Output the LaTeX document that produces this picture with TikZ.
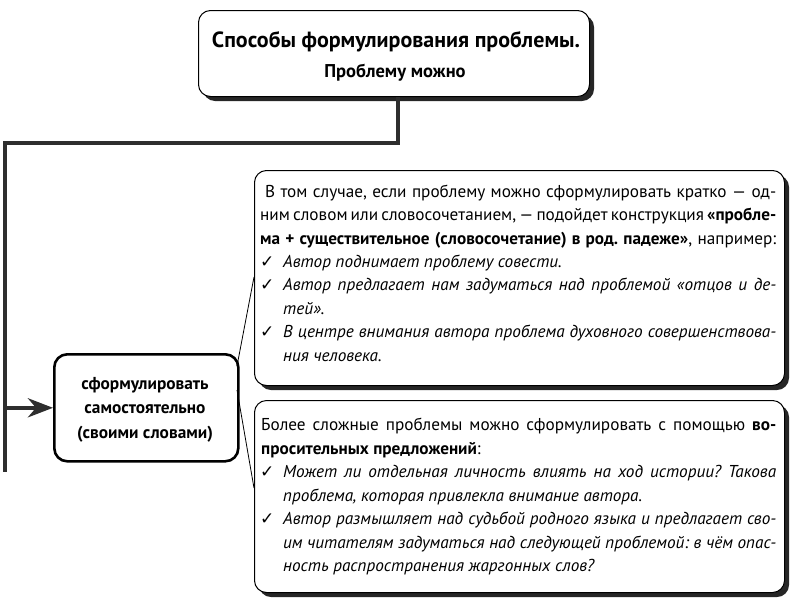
\documentclass[tikz,border=0pt]{standalone}
\usepackage{fontspec}
\setmainfont{PT Sans}
\newfontfamily\symfont{DejaVu Sans}
\usetikzlibrary{shadows,arrows.meta}
\frenchspacing
\newcommand\bodysize{\fontsize{17.2}{20}\selectfont}
\newcommand\jl[2]{\makebox[#1pt][s]{#2}}
\newcommand\chk{{\symfont\fontsize{17}{17}\selectfont ✓}}
\begin{document}
\begin{tikzpicture}[x=1pt,y=-1pt,
  conn/.style={line width=4.5pt, draw=black!82},
  card/.style={draw=black, line width=1pt, rounded corners=12pt, fill=white,
    drop shadow={shadow xshift=4.5pt, shadow yshift=-4.5pt, fill=black!85, opacity=1}},
  midbox/.style={draw=black, line width=2.6pt, rounded corners=13pt, fill=white},
  txt/.style={anchor=base west, inner sep=0pt, font=\bodysize},
  chkn/.style={anchor=base west, inner sep=0pt},
  ctxt/.style={anchor=base, inner sep=0pt},
  thinl/.style={draw=black, line width=0.8pt}]
\useasboundingbox (0,0) rectangle (800,600);
% top box
\node[card, anchor=north west, minimum width=391pt, minimum height=86pt] (top) at (198,10) {};
\node[ctxt, font=\bfseries\fontsize{22}{26}\selectfont] (title) at (396,47) {Способы формулирования проблемы.};
\node[ctxt, font=\bfseries\fontsize{18.5}{22}\selectfont] (sub) at (395,77) {Проблему можно};
% connectors
\coordinate (c1) at (398,143);
\coordinate (cl) at (5,143);
\coordinate (cb) at (5,472);
\draw[conn] (top.south -| c1) -- (c1) -- (cl) -- (cb);
% middle box
\node[midbox, anchor=north west, minimum width=184pt, minimum height=107pt] (mid) at (53,353) {};
\node[ctxt, font=\bfseries\fontsize{17.3}{20}\selectfont] (ma) at (145,389) {сформулировать};
\node[ctxt, font=\bfseries\fontsize{17.3}{20}\selectfont] (mb) at (145,413) {самостоятельно};
\node[ctxt, font=\bfseries\fontsize{17.3}{20}\selectfont] (mc) at (145,438) {(своими словами)};
\draw[conn, -{Stealth[length=25pt, width=19pt, inset=8pt]}] (mid.west -| cl) -- (mid.west);
% right boxes
\node[card, anchor=north west, minimum width=530pt, minimum height=215pt] (b1) at (254,170) {};
\node[card, anchor=north west, minimum width=530pt, minimum height=192pt] (b2) at (254,400) {};
% bracket lines
\coordinate (m1) at (237,366);
\coordinate (m2) at (237,390);
\coordinate (p1) at (254,277);
\coordinate (p2) at (254,488);
\draw[thinl] (m1) -- (p1);
\draw[thinl] (m2) -- (p2);
% box 1 text
\node[txt] (l1) at (265,197) {\jl{511}{В том случае, если проблему можно сформулировать кратко — од-}};
\node[txt] (l2) at (260,220.5) {\jl{516}{ним словом или словосочетанием, — подойдет конструкция \textbf{«пробле-}}};
\node[txt] (l3) at (260,244) {\jl{516}{\textbf{ма + существительное (словосочетание) в род. падеже»}, например:}};
\node[chkn] (k4) at (260,267) {\chk};
\node[txt] (l4) at (283,267) {\itshape Автор поднимает проблему совести.};
\node[chkn] (k5) at (260,290.5) {\chk};
\node[txt] (l5) at (283,290.5) {\itshape\jl{493}{Автор предлагает нам задуматься над проблемой «отцов и де-}};
\node[txt] (l6) at (283,314) {\itshape тей».};
\node[chkn] (k7) at (260,337.5) {\chk};
\node[txt] (l7) at (283,337.5) {\itshape\jl{493}{В центре внимания автора проблема духовного совершенствова-}};
\node[txt] (l8) at (283,361) {\itshape ния человека.};
% box 2 text
\node[txt] (n1) at (261,430) {\jl{515}{Более сложные проблемы можно сформулировать с помощью \textbf{во-}}};
\node[txt] (n2) at (261,454) {\textbf{просительных предложений}:};
\node[chkn] (k3) at (260,477.5) {\chk};
\node[txt] (n3) at (283,477.5) {\itshape\jl{493}{Может ли отдельная личность влиять на ход истории? Такова}};
\node[txt] (n4) at (283,501) {\itshape проблема, которая привлекла внимание автора.};
\node[chkn] (k5b) at (260,524.5) {\chk};
\node[txt] (n5) at (283,524.5) {\itshape\jl{493}{Автор размышляет над судьбой родного языка и предлагает сво-}};
\node[txt] (n6) at (283,548) {\itshape\jl{493}{им читателям задуматься над следующей проблемой: в чём опас-}};
\node[txt] (n7) at (283,571.5) {\itshape ность распространения жаргонных слов?};
\end{tikzpicture}
\end{document}
